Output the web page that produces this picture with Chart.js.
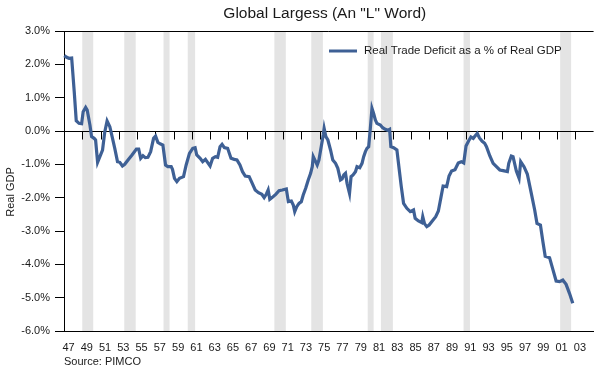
<!DOCTYPE html>
<html>
<head>
<meta charset="utf-8">
<script src="https://cdn.jsdelivr.net/npm/chart.js@4/dist/chart.umd.min.js"></script>
<style>
  html, body { margin: 0; padding: 0; background: #ffffff; }
  #wrap { width: 596px; height: 369px; position: relative; }
</style>
</head>
<body>
<div id="wrap"><canvas id="c" width="596" height="369"></canvas></div>
<script>
// ---- Data ----
const titleText = 'Global Largess (An "L" Word)';
const seriesName = 'Real Trade Deficit as a % of Real GDP';
const yAxisTitle = 'Real GDP';
const sourceText = 'Source: PIMCO';

const years = [
  1947.03, 1947.29, 1947.55, 1947.84, 1948.12, 1948.34, 1948.64, 1948.93, 1949.10, 1949.37,
  1949.54, 1949.84, 1950.02, 1950.30, 1950.46, 1950.68, 1950.93, 1951.22, 1951.47, 1951.72,
  1952.02, 1952.27, 1952.56, 1952.86, 1953.11, 1953.40, 1953.65, 1954.01, 1954.45, 1954.93,
  1955.18, 1955.40, 1955.65, 1955.91, 1956.19, 1956.49, 1956.81, 1957.03, 1957.28, 1957.58,
  1957.83, 1958.12, 1958.37, 1958.74, 1958.88, 1959.10, 1959.36, 1959.65, 1960.09, 1960.38,
  1960.74, 1961.10, 1961.36, 1961.54, 1961.91, 1962.19, 1962.49, 1962.74, 1963.00, 1963.28,
  1963.58, 1963.83, 1964.09, 1964.31, 1964.56, 1964.92, 1965.29, 1965.65, 1965.94, 1966.27,
  1966.55, 1966.85, 1967.28, 1967.58, 1967.94, 1968.30, 1968.67, 1968.92, 1969.17, 1969.36,
  1969.54, 1969.82, 1970.19, 1970.55, 1970.91, 1971.35, 1971.57, 1971.90, 1972.11, 1972.27,
  1972.49, 1972.74, 1972.99, 1973.20, 1973.47, 1973.75, 1974.01, 1974.19, 1974.30, 1974.56,
  1974.73, 1974.92, 1975.17, 1975.39, 1975.49, 1975.68, 1975.90, 1976.19, 1976.44, 1976.74,
  1976.99, 1977.28, 1977.46, 1977.64, 1977.83, 1978.00, 1978.27, 1978.44, 1978.66, 1978.92,
  1979.09, 1979.39, 1979.64, 1979.82, 1980.01, 1980.18, 1980.37, 1980.55, 1980.73, 1980.91,
  1981.10, 1981.27, 1981.65, 1981.90, 1982.19, 1982.44, 1982.66, 1982.80, 1983.10, 1983.46,
  1983.72, 1983.94, 1984.19, 1984.55, 1984.92, 1985.28, 1985.46, 1985.82, 1986.18, 1986.29,
  1986.48, 1986.73, 1986.99, 1987.27, 1987.71, 1988.00, 1988.30, 1988.52, 1988.91, 1989.17,
  1989.45, 1989.82, 1990.18, 1990.51, 1990.78, 1991.03, 1991.31, 1991.57, 1991.82, 1992.04,
  1992.26, 1992.50, 1992.80, 1993.07, 1993.27, 1993.64, 1994.00, 1994.36, 1994.73, 1995.09,
  1995.56, 1995.71, 1995.99, 1996.18, 1996.54, 1996.84, 1997.02, 1997.38, 1997.74, 1998.18,
  1998.55, 1998.80, 1999.18, 1999.45, 1999.70, 2000.18, 2000.54, 2000.90, 2001.27, 2001.63,
  2001.99, 2002.36, 2002.72
];

const deficitPct = [
  2.26, 2.21, 2.18, 2.19, 1.18, 0.31, 0.23, 0.22, 0.58, 0.71,
  0.63, 0.18, -0.17, -0.22, -0.27, -0.94, -0.77, -0.57, -0.02, 0.30,
  0.13, -0.17, -0.52, -0.92, -0.94, -1.05, -1.00, -0.87, -0.72, -0.54,
  -0.54, -0.82, -0.74, -0.80, -0.79, -0.62, -0.22, -0.15, -0.34, -0.39,
  -0.42, -1.02, -1.07, -1.07, -1.15, -1.42, -1.52, -1.42, -1.37, -1.02,
  -0.67, -0.52, -0.50, -0.72, -0.82, -0.92, -0.85, -0.95, -1.05, -0.82,
  -0.77, -0.79, -0.47, -0.40, -0.50, -0.52, -0.82, -0.85, -0.87, -1.02,
  -1.22, -1.35, -1.37, -1.55, -1.77, -1.85, -1.90, -2.00, -1.89, -1.77,
  -2.05, -1.99, -1.90, -1.79, -1.77, -1.74, -2.12, -2.10, -2.22, -2.42,
  -2.27, -2.17, -2.12, -1.92, -1.72, -1.47, -1.27, -1.07, -0.77, -0.92,
  -1.02, -0.87, -0.47, -0.12, 0.08, -0.17, -0.27, -0.57, -0.87, -0.97,
  -1.12, -1.47, -1.44, -1.32, -1.27, -1.57, -1.87, -1.37, -1.32, -1.22,
  -1.07, -1.10, -0.97, -0.77, -0.62, -0.52, -0.47, 0.08, 0.68, 0.53,
  0.33, 0.23, 0.18, 0.10, 0.05, 0.02, 0.05, -0.47, -0.50, -0.57,
  -1.17, -1.67, -2.17, -2.32, -2.42, -2.37, -2.62, -2.70, -2.75, -2.57,
  -2.78, -2.87, -2.82, -2.72, -2.57, -2.40, -1.97, -1.65, -1.67, -1.35,
  -1.20, -1.16, -0.96, -0.92, -0.96, -0.45, -0.30, -0.18, -0.22, -0.14,
  -0.07, -0.21, -0.31, -0.37, -0.47, -0.75, -0.97, -1.07, -1.17, -1.19,
  -1.22, -0.97, -0.75, -0.77, -1.20, -1.42, -0.92, -1.07, -1.29, -1.87,
  -2.37, -2.77, -2.82, -3.32, -3.76, -3.80, -4.15, -4.50, -4.52, -4.47,
  -4.60, -4.87, -5.17
];

// Recession bands (start / end, in years)
const recessionStarts = [1949.0, 1953.6, 1957.9, 1960.55, 1970.04, 1974.08, 1980.26, 1981.71, 1990.76, 2001.34];
const recessionEnds   = [1950.2, 1954.85, 1958.56, 1961.36, 1971.29, 1975.35, 1980.91, 1983.02, 1991.46, 2002.54];

// Axis tick labels
const xTickYears = [1947,1949,1951,1953,1955,1957,1959,1961,1963,1965,1967,1969,1971,1973,1975,
                    1977,1979,1981,1983,1985,1987,1989,1991,1993,1995,1997,1999,2001,2003];
const xTickLabels = ['47','49','51','53','55','57','59','61','63','65','67','69','71','73','75',
                     '77','79','81','83','85','87','89','91','93','95','97','99','01','03'];
const yTickValues = [3,2,1,0,-1,-2,-3,-4,-5,-6];
const yTickLabels = ['3.0%','2.0%','1.0%','0.0%','-1.0%','-2.0%','-3.0%','-4.0%','-5.0%','-6.0%'];

// ---- Styles ----
const FONT = '"Liberation Sans", Arial, Helvetica, sans-serif';
const LINE_COLOR = '#3e6095';
const BAND_COLOR = '#e4e4e4';
const TEXT_COLOR = '#1a1a1a';

const points = years.map((yr, i) => ({ x: yr, y: deficitPct[i] }));

const decorPlugin = {
  id: 'decor',
  beforeDatasetsDraw(chart) {
    const { ctx, chartArea: a, scales: { x, y } } = chart;
    ctx.save();
    ctx.fillStyle = BAND_COLOR;
    for (let i = 0; i < recessionStarts.length; i++) {
      const x0 = x.getPixelForValue(recessionStarts[i]);
      const x1 = x.getPixelForValue(recessionEnds[i]);
      ctx.fillRect(x0, a.top, x1 - x0, a.bottom - a.top);
    }
    const y0 = Math.round(y.getPixelForValue(0)) + 0.5;
    ctx.strokeStyle = '#000';
    ctx.lineWidth = 1;
    ctx.beginPath();
    ctx.moveTo(a.left, y0);
    ctx.lineTo(a.right, y0);
    for (let k = 1; k < xTickYears.length; k++) {
      const px = Math.round(x.getPixelForValue(xTickYears[k])) + 0.5;
      ctx.moveTo(px, y0);
      ctx.lineTo(px, y0 + 8);
    }
    ctx.stroke();
    ctx.beginPath();
    ctx.moveTo(a.left, Math.round(a.top) + 0.5);
    ctx.lineTo(a.right, Math.round(a.top) + 0.5);
    ctx.stroke();
    ctx.restore();
  },
  afterDraw(chart) {
    const { ctx, chartArea: a } = chart;
    ctx.save();
    ctx.fillStyle = TEXT_COLOR;
    ctx.font = '15.5px ' + FONT;
    ctx.textAlign = 'center';
    ctx.textBaseline = 'middle';
    ctx.fillText(titleText, (a.left + a.right) / 2 - 4, 14);
    ctx.strokeStyle = LINE_COLOR;
    ctx.lineWidth = 3;
    ctx.beginPath();
    ctx.moveTo(329, 51);
    ctx.lineTo(357, 51);
    ctx.stroke();
    ctx.font = '11.5px ' + FONT;
    ctx.textAlign = 'left';
    ctx.fillText(seriesName, 364, 51);
    ctx.font = '11px ' + FONT;
    ctx.fillText(sourceText, 64, 362);
    ctx.translate(11, 192);
    ctx.rotate(-Math.PI / 2);
    ctx.textAlign = 'center';
    ctx.fillText(yAxisTitle, 0, 0);
    ctx.restore();
  }
};

new Chart(document.getElementById('c'), {
  type: 'line',
  data: {
    datasets: [{
      label: seriesName,
      data: points,
      borderColor: LINE_COLOR,
      borderWidth: 3.2,
      pointRadius: 0,
      tension: 0,
      fill: false,
      clip: false
    }]
  },
  options: {
    responsive: false,
    animation: false,
    parsing: false,
    layout: { padding: { top: 31, right: 0, bottom: 0, left: 0 } },
    plugins: { legend: { display: false }, title: { display: false }, tooltip: { enabled: false } },
    scales: {
      x: {
        type: 'linear',
        min: 1947,
        max: 2005,
        afterBuildTicks(scale) {
          scale.ticks = xTickYears.map(v => ({ value: v + 0.5 }));
        },
        afterFit(scale) { scale.height = 38; },
        grid: { display: false, drawTicks: false },
        border: { display: true, color: '#000', width: 1 },
        ticks: {
          autoSkip: false,
          maxRotation: 0,
          padding: 10,
          color: TEXT_COLOR,
          font: { family: FONT, size: 11 },
          callback(v) {
            const i = xTickYears.indexOf(Math.round(v - 0.5));
            return i >= 0 ? xTickLabels[i] : '';
          }
        }
      },
      y: {
        type: 'linear',
        min: -6,
        max: 3,
        afterBuildTicks(scale) {
          scale.ticks = yTickValues.map(v => ({ value: v }));
        },
        afterFit(scale) { scale.width = 64; },
        grid: { drawOnChartArea: false, drawTicks: true, tickLength: 9, color: '#000' },
        border: { display: true, color: '#000', width: 1 },
        ticks: {
          padding: 5,
          color: TEXT_COLOR,
          font: { family: FONT, size: 11 },
          callback(v) {
            const i = yTickValues.indexOf(v);
            return i >= 0 ? yTickLabels[i] : '';
          }
        }
      }
    }
  },
  plugins: [decorPlugin]
});
</script>
</body>
</html>
